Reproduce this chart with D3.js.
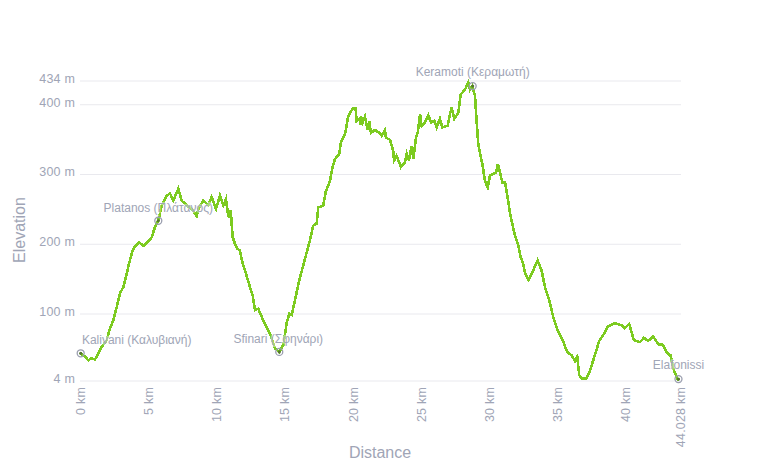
<!DOCTYPE html>
<html>
<head>
<meta charset="utf-8">
<script src="https://cdn.jsdelivr.net/npm/d3@7"></script>
<style>
  body { margin: 0; background: #fff; }
  svg { display: block; font-family: "Liberation Sans", Arial, sans-serif; }
  .tick text { fill: #a0a5b6; font-size: 12.5px; letter-spacing: 0.2px; }
  .domain { display: none; }
  .y-axis line { stroke: #e9e9ee; }
  .x-axis line { display: none; }
  .title { fill: #a0a5b6; font-size: 16px; text-anchor: middle; }
  .stop-label { fill: #a0a5b6; font-size: 12px; text-anchor: middle; stroke: #fff; stroke-opacity: 0.45; stroke-width: 2px; paint-order: stroke; }
</style>
</head>
<body>
<svg id="chart" width="760" height="460"></svg>
<script>
// profile
const distances = [0.05,0.37,0.61,0.86,1.10,1.34,1.59,1.96,2.20,2.44,2.69,2.93,3.18,3.42,3.59,3.79,3.96,4.35,4.64,4.94,5.25,5.50,5.74,5.99,6.35,6.60,6.84,7.21,7.45,7.82,8.19,8.55,8.68,9.04,9.41,9.65,9.97,10.26,10.51,10.70,10.88,11.05,11.19,11.36,11.53,11.73,11.93,12.17,12.46,12.66,12.83,13.07,13.44,13.93,14.30,14.61,14.91,15.15,15.35,15.52,15.76,16.08,16.45,16.86,17.10,17.35,17.47,17.84,18.01,18.33,18.52,18.69,19.01,19.13,19.43,19.67,19.99,20.21,20.28,20.48,20.58,20.60,20.72,20.89,21.09,21.21,21.33,21.63,21.94,22.11,22.36,22.43,22.73,22.97,23.02,23.21,23.53,23.83,23.95,24.12,24.31,24.44,24.63,24.76,24.93,25.05,25.29,25.54,25.73,25.98,26.15,26.39,26.56,26.95,27.13,27.25,27.44,27.74,27.91,28.23,28.47,28.59,28.76,28.96,29.08,29.20,29.32,29.52,29.69,29.89,30.06,30.30,30.50,30.64,30.84,30.98,31.16,31.35,31.52,31.72,31.89,32.13,32.30,32.50,32.62,32.87,33.16,33.55,33.84,34.09,34.40,34.70,35.06,35.38,35.72,36.04,36.29,36.46,36.60,36.77,37.14,37.43,37.63,37.87,38.07,38.36,38.73,39.22,39.71,39.95,40.27,40.61,41.05,41.34,41.66,42.03,42.40,42.76,43.01,43.30,43.50,43.78,43.90];
const elevations = [43,38,33,36,34,43,52,62,79,90,109,129,138,157,171,186,195,202,197,202,209,224,233,255,269,272,262,279,262,255,250,240,250,262,255,267,250,269,255,264,238,248,210,200,193,190,171,157,138,126,105,107,90,71,50,45,55,86,100,98,119,148,175,205,226,229,252,255,274,290,310,321,329,345,357,383,394,394,376,379,371,383,374,382,364,376,359,363,359,355,363,352,349,333,319,326,310,317,329,319,340,321,352,359,386,369,374,384,374,376,367,379,367,369,386,395,379,388,414,421,431,421,426,412,376,343,331,312,290,281,298,300,302,314,298,287,288,267,245,226,212,198,181,171,159,148,159,176,162,138,119,95,74,62,45,40,32,38,12,7,7,20,33,48,61,69,82,86,83,79,85,62,59,65,61,67,56,55,44,40,21,7,4];

const stopNames = ["Kalivani (Καλυβιανή)", "Platanos (Πλάτανος)", "Sfinari (Σφηνάρι)", "Keramoti (Κεραμωτή)", "Elafonissi"];
const stopKm = [0.05, 5.74, 14.61, 28.79, 43.88];
const stopElev = [43, 233, 45, 426, 6];

const xTicks = [0, 5, 10, 15, 20, 25, 30, 35, 40, 44.028];
const yTicks = [4, 100, 200, 300, 400, 434];

const width = 760, height = 460;
const margin = { top: 80, right: 79, bottom: 80, left: 80 };

const svg = d3.select('#chart');

const x = d3.scaleLinear().domain([0, 44.028]).range([margin.left, 680.5]);
const y = d3.scaleLinear().domain([4, 434]).range([380.5, 80.5]);

// axes
const yAxis = svg.append('g')
    .attr('class', 'y-axis')
    .attr('transform', `translate(${margin.left}, 0)`)
    .call(d3.axisLeft(y).tickValues(yTicks).tickSize(-(width - margin.left - margin.right)).tickPadding(5).tickFormat(d => d + ' m'));

yAxis.selectAll('text').attr('y', -2);

const xAxis = svg.append('g')
    .attr('class', 'x-axis')
    .attr('transform', `translate(0, ${height - margin.bottom})`)
    .call(d3.axisBottom(x).tickValues(xTicks).tickSize(0).tickFormat(d => d + ' km'));

xAxis.selectAll('text')
    .attr('transform', 'rotate(-90)')
    .attr('x', -7)
    .attr('y', 0)
    .attr('dy', '0.35em')
    .style('text-anchor', 'end');

// axis titles
svg.append('text')
    .attr('class', 'title')
    .attr('transform', 'translate(25, 230) rotate(-90)')
    .text('Elevation');

svg.append('text')
    .attr('class', 'title')
    .attr('x', 380)
    .attr('y', 458)
    .text('Distance');

// elevation line
const line = d3.line()
    .x((d, i) => x(distances[i]))
    .y((d, i) => y(elevations[i]));

svg.append('path')
    .datum(elevations)
    .attr('d', line)
    .attr('fill', 'none')
    .attr('stroke', '#7ccb20')
    .attr('stroke-width', 2.6)
    .style('shape-rendering', 'crispEdges');

// stops
svg.selectAll('.stop-ring')
    .data(stopKm)
    .enter()
    .append('circle')
    .attr('class', 'stop-ring')
    .attr('cx', d => x(d))
    .attr('cy', (d, i) => y(stopElev[i]))
    .attr('r', 3.5)
    .attr('fill', 'none')
    .attr('stroke', '#9a9eae')
    .attr('stroke-width', 1.3);

svg.selectAll('.stop-dot')
    .data(stopKm)
    .enter()
    .append('circle')
    .attr('class', 'stop-dot')
    .attr('cx', d => x(d))
    .attr('cy', (d, i) => y(stopElev[i]))
    .attr('r', 1.6)
    .attr('fill', '#55772f');

svg.selectAll('.stop-label')
    .data(stopNames)
    .enter()
    .append('text')
    .attr('class', 'stop-label')
    .attr('x', (d, i) => x(stopKm[i]) + [56, 0, -1, 0, 0][i])
    .attr('y', (d, i) => y(stopElev[i]) + [-9, -9, -9, -10, -10][i])
    .text(d => d);
</script>
</body>
</html>
